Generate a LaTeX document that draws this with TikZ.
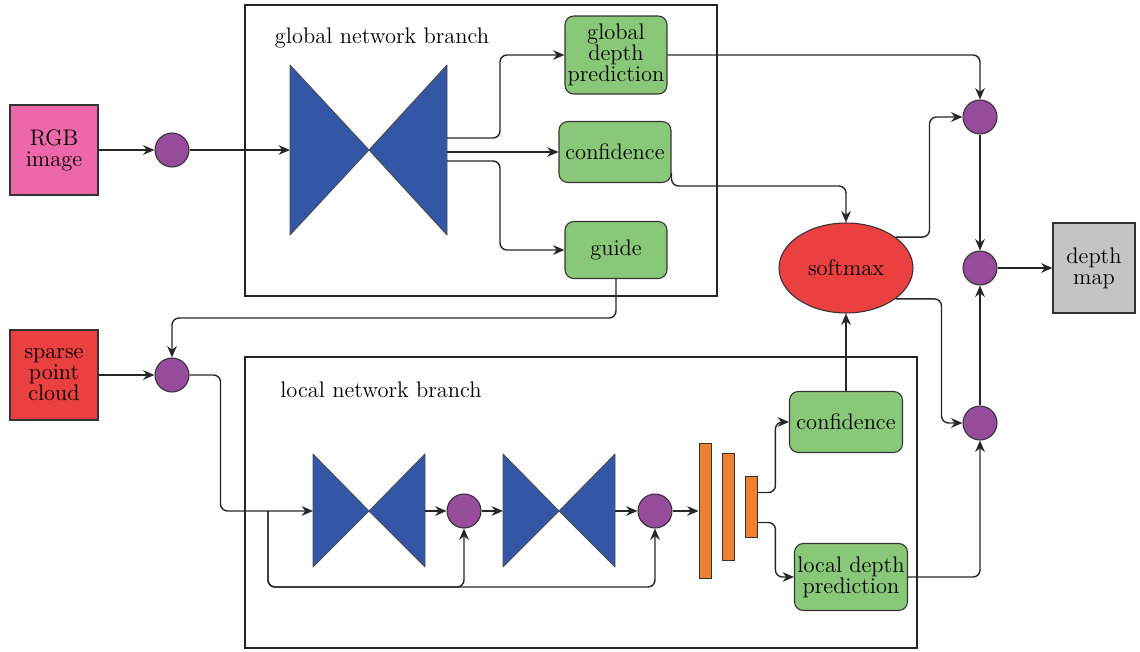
\documentclass[tikz,border=0pt]{standalone}
\usepackage{tikz}
\usetikzlibrary{arrows.meta,shapes.geometric}

\definecolor{rgbpink}{RGB}{236,104,170}
\definecolor{sumpurple}{RGB}{150,75,155}
\definecolor{netblue}{RGB}{51,87,166}
\definecolor{boxgreen}{RGB}{137,200,120}
\definecolor{maxred}{RGB}{235,64,64}
\definecolor{mapgray}{RGB}{196,196,196}
\definecolor{barorange}{RGB}{240,128,48}

\tikzset{
	arr/.style={draw=black!85,line width=0.8pt,rounded corners=4pt,-{Stealth[length=6.5pt,width=5.5pt]}},
	sumnode/.style={circle,draw=black!80,line width=0.6pt,fill=sumpurple,minimum size=0.68cm,inner sep=0pt},
	greenbox/.style={rectangle,rounded corners=5pt,draw=black!80,line width=0.6pt,fill=boxgreen,align=center,inner sep=1pt},
	inbox/.style={rectangle,draw=black!80,line width=0.6pt,align=center,minimum width=1.76cm,minimum height=1.8cm},
	barnode/.style={rectangle,draw=black!80,line width=0.5pt,fill=barorange,minimum width=0.24cm,inner sep=0pt},
	bowtie/.style={fill=netblue,draw=black!70,line width=0.5pt,line join=round},
	frame/.style={draw=black!85,line width=0.7pt}
}

\begin{document}
\begin{tikzpicture}[x=0.02cm,y=-0.02cm,font=\fontsize{12.8}{12}\selectfont]
			\useasboundingbox (0,0) rectangle (1140,652);

			% branch frames
			\draw[frame] (245,5) rectangle (717,296);
			\draw[frame] (245,357) rectangle (917,648);
			\node (gtitle) at (382,38) {global network branch};
			\node (ltitle) at (381,390) {local network branch};

			% inputs and output
			\node[inbox,fill=rgbpink] (rgb) at (54,150) {RGB\\image};
			\node[inbox,fill=maxred] (spc) at (54,375) {sparse\\point\\cloud};
			\node[inbox,fill=mapgray,minimum width=1.64cm] (dm) at (1094,268) {depth\\map};

			% sum nodes
			\node[sumnode] (c1) at (172,150) {};
			\node[sumnode] (c2) at (172,375) {};
			\node[sumnode] (c3) at (464,511) {};
			\node[sumnode] (c4) at (655,511) {};
			\node[sumnode] (s1) at (980,117) {};
			\node[sumnode] (s2) at (980,268) {};
			\node[sumnode] (s3) at (980,423) {};

			% global network
			\draw[bowtie] (290,65) -- (369,150) -- (290,235) -- cycle;
			\draw[bowtie] (447,65) -- (369,150) -- (447,235) -- cycle;
			\coordinate (gin) at (290,150);
			\coordinate (gout1) at (447,138);
			\coordinate (gout2) at (447,152);
			\coordinate (gout3) at (447,161);
			\node[greenbox,minimum width=2.04cm,minimum height=1.56cm] (gdp) at (616,55) {global\\depth\\prediction};
			\node[greenbox,minimum width=2.24cm,minimum height=1.22cm] (gconf) at (615,152) {confidence};
			\node[greenbox,minimum width=2.04cm,minimum height=1.14cm] (guide) at (616,250) {guide};

			% local network
			\draw[bowtie] (313,454) -- (369,511) -- (313,567) -- cycle;
			\draw[bowtie] (425,454) -- (369,511) -- (425,567) -- cycle;
			\draw[bowtie] (503,454) -- (559,511) -- (503,567) -- cycle;
			\draw[bowtie] (615,454) -- (559,511) -- (615,567) -- cycle;
			\coordinate (b1in) at (313,511);
			\coordinate (b1out) at (425,511);
			\coordinate (b2in) at (503,511);
			\coordinate (b2out) at (615,511);
			\coordinate (split) at (268,511);
			\node[barnode,minimum height=2.7cm] (bar1) at (705,511) {};
			\node[barnode,minimum height=2.14cm] (bar2) at (728,507) {};
			\node[barnode,minimum height=1.22cm] (bar3) at (751,507) {};
			\node[greenbox,minimum width=2.26cm,minimum height=1.22cm] (lconf) at (846,422) {confidence};
			\node[greenbox,minimum width=2.26cm,minimum height=1.34cm] (ldp) at (851,577) {local depth\\prediction};

			% fusion
			\node[ellipse,draw=black!80,line width=0.6pt,fill=maxred,minimum width=2.68cm,minimum height=1.8cm,inner sep=0pt] (sm) at (846,268) {softmax};

			% connectors
			\draw[arr] (rgb) -- (c1);
			\draw[arr] (c1) -- (gin);
			\draw[arr] (gout1) -- ++(53,0) |- (gdp.west);
			\draw[arr] (gout2) -- (gconf.west);
			\draw[arr] (gout3) -- ++(53,0) |- (guide.west);
			\draw[arr] (gdp.east) -| (s1.north);
			\draw[arr] ([yshift=-0.42cm]gconf.east) -- ++(0,13) -| (sm.north);
			\draw[arr] (guide.south) -- ++(0,39) -| (c2.north);
			\draw[arr] (spc) -- (c2);
			\draw[arr] (c2.east) -- ++(31,0) |- (b1in);
			\draw[arr] (split) -- ++(0,76) -| (c3.south);
			\draw[arr] (split) -- ++(0,76) -| (c4.south);
			\draw[arr] (b1out) -- (c3.west);
			\draw[arr] (c3.east) -- (b2in);
			\draw[arr] (b2out) -- (c4.west);
			\draw[arr] (c4.east) -- (bar1.west);
			\draw[arr] ([yshift=0.29cm]bar3.east) -- ++(18,0) |- (lconf.west);
			\draw[arr] ([yshift=-0.31cm]bar3.east) -- ++(18,0) |- (ldp.west);
			\draw[arr] (lconf.north) -- (sm.south);
			\draw[arr] (sm.32) -- ++(34,0) |- (s1.west);
			\draw[arr] (sm.-32) -- ++(46,0) |- (s3.west);
			\draw[arr] (ldp.east) -| (s3.south);
			\draw[arr] (s1.south) -- (s2.north);
			\draw[arr] (s3.north) -- (s2.south);
			\draw[arr] (s2.east) -- (dm.west);
		\end{tikzpicture}
\end{document}
